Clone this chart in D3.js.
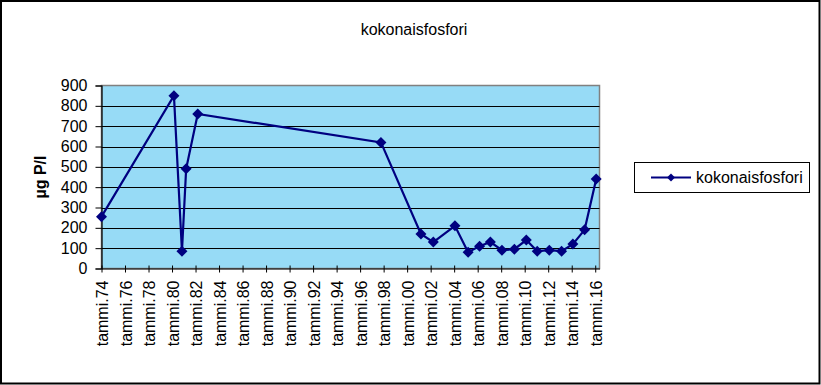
<!DOCTYPE html>
<html>
<head>
<meta charset="utf-8">
<script src="https://cdn.jsdelivr.net/npm/d3@7"></script>
<style>
  html, body { margin: 0; padding: 0; background: #fff; }
  svg { display: block; }
  text { font-family: "Liberation Sans", Arial, sans-serif; fill: #000; }
</style>
</head>
<body>
<svg id="chart" width="821" height="385"></svg>
<script>
// ---- data ----
const title = "kokonaisfosfori";
const seriesName = "kokonaisfosfori";
const yAxisTitle = "µg P/l";
const dates = [
  "1974-01-01", "1980-03-01", "1980-11-05", "1981-03-15", "1982-03-10",
  "1997-10-10", "2001-03-05", "2002-03-25", "2004-01-25", "2005-03-10",
  "2006-03-01", "2007-01-30", "2008-01-25", "2009-02-15", "2010-02-20",
  "2011-01-25", "2012-02-05", "2013-02-20", "2014-02-05", "2015-02-05",
  "2016-02-01"
];
const values = [
  255, 850, 85, 490, 760,
  620, 170, 130, 210, 80,
  110, 130, 90, 95, 140,
  85, 90, 85, 120, 190,
  440
];
const yTicks = [0, 100, 200, 300, 400, 500, 600, 700, 800, 900];
const xTickYears = [1974,1976,1978,1980,1982,1984,1986,1988,1990,1992,1994,1996,1998,2000,2002,2004,2006,2008,2010,2012,2014,2016];
const xTickPrefix = "tammi.";
const xDomain = ["1974-01-01", "2016-05-13"];

// ---- layout ----
const W = 821, H = 385;
const plot = { left: 101.5, right: 599.5, top: 85.5, bottom: 268.5 };
const svg = d3.select("#chart");
const parse = d3.timeParse("%Y-%m-%d");

// outer border
svg.append("rect").attr("x", 1).attr("y", 1).attr("width", 818.5).attr("height", 382.5)
  .attr("fill", "#fff").attr("stroke", "#000").attr("stroke-width", 2);

const x = d3.scaleTime().domain(xDomain.map(parse)).range([plot.left, plot.right]);
const y = d3.scaleLinear().domain([0, 900]).range([plot.bottom, plot.top]);

// plot background
svg.append("rect").attr("x", plot.left).attr("y", plot.top)
  .attr("width", plot.right - plot.left).attr("height", plot.bottom - plot.top)
  .attr("fill", "#97dbf6").attr("stroke", "#808080").attr("stroke-width", 1.5);

// gridlines
svg.append("g").selectAll("line").data(yTicks.filter(v => v > 0 && v < 900)).join("line")
  .attr("x1", plot.left).attr("x2", plot.right)
  .attr("y1", d => Math.round(y(d)) + 0.5).attr("y2", d => Math.round(y(d)) + 0.5)
  .attr("stroke", "#000").attr("stroke-width", 1);

// y axis
const yAxis = d3.axisLeft(y).tickValues(yTicks).tickSize(6).tickPadding(8).tickFormat(d3.format("d"));
const gy = svg.append("g").attr("transform", `translate(${plot.left},0)`).call(yAxis);
gy.select(".domain").attr("stroke", "#000").attr("stroke-width", 1.2);
gy.selectAll(".tick line").attr("stroke", "#000");
gy.selectAll(".tick text").attr("font-size", 16).attr("font-family", "Liberation Sans, Arial, sans-serif").attr("fill", "#000");

// x axis
const xTickDates = xTickYears.map(yr => new Date(yr, 0, 1));
const xAxis = d3.axisBottom(x).tickValues(xTickDates).tickSize(0)
  .tickFormat(d => xTickPrefix + String(d.getFullYear()).slice(2));
const gx = svg.append("g").attr("transform", `translate(0,${plot.bottom})`).call(xAxis);
gx.select(".domain").attr("stroke", "#000").attr("stroke-width", 1.2);
gx.selectAll(".tick line").attr("y1", -3).attr("y2", 4).attr("stroke", "#000");
gx.selectAll(".tick text")
  .attr("font-size", 16).attr("font-family", "Liberation Sans, Arial, sans-serif").attr("fill", "#000")
  .attr("transform", "rotate(-90)")
  .attr("text-anchor", "end")
  .attr("x", -12).attr("y", 0).attr("dy", "0.38em");

// y axis title
svg.append("text")
  .attr("transform", `translate(46,${(plot.top + plot.bottom) / 2}) rotate(-90)`)
  .attr("text-anchor", "middle").attr("font-size", 16).attr("font-weight", "bold")
  .text(yAxisTitle);

// chart title
svg.append("text").attr("x", 414).attr("y", 35).attr("text-anchor", "middle")
  .attr("font-size", 16).text(title);

// series
const data = dates.map((d, i) => ({ date: parse(d), value: values[i] }));
const line = d3.line().x(d => x(d.date)).y(d => y(d.value));
svg.append("path").datum(data).attr("d", line)
  .attr("fill", "none").attr("stroke", "#000080").attr("stroke-width", 2.2);
const diamond = r => `M0,${-r}L${r},0L0,${r}L${-r},0Z`;
svg.append("g").selectAll("path").data(data).join("path")
  .attr("transform", d => `translate(${x(d.date)},${y(d.value)})`)
  .attr("d", diamond(5.5)).attr("fill", "#000080");

// legend
const lg = svg.append("g");
lg.append("rect").attr("x", 634.5).attr("y", 162.5).attr("width", 175).attr("height", 30)
  .attr("fill", "#fff").attr("stroke", "#000").attr("stroke-width", 1);
lg.append("line").attr("x1", 651).attr("x2", 691).attr("y1", 177.5).attr("y2", 177.5)
  .attr("stroke", "#000080").attr("stroke-width", 2);
lg.append("path").attr("transform", "translate(671,177.5)").attr("d", diamond(4)).attr("fill", "#000080");
lg.append("text").attr("x", 696).attr("y", 183).attr("font-size", 16).text(seriesName);
</script>
</body>
</html>
